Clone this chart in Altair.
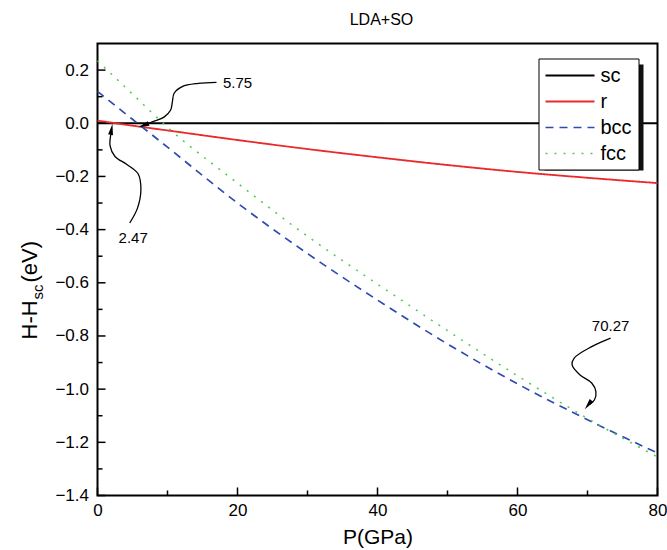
import altair as alt
import pandas as pd

FONT = "Liberation Sans"

# ---- data ----
P = [0, 5, 10, 20, 30, 40, 50, 60, 70, 80]
sc = [0, 0, 0, 0, 0, 0, 0, 0, 0, 0]
r = [0.01, -0.009, -0.027, -0.063, -0.097, -0.128, -0.157, -0.183, -0.205, -0.225]
bcc = [0.12, 0.015, -0.09, -0.30, -0.49, -0.665, -0.83, -0.98, -1.115, -1.24]
fcc = [0.235, 0.11, -0.015, -0.225, -0.425, -0.605, -0.78, -0.95, -1.11, -1.255]

series = ["sc", "r", "bcc", "fcc"]
colors = ["#000000", "#ea2a2a", "#2e4bb0", "#4fc94f"]
dashes = [[1, 0], [1, 0], [8, 6], [2, 7]]
widths = [2, 1.5, 1.5, 2]

y_major = [-1.4, -1.2, -1.0, -0.8, -0.6, -0.4, -0.2, 0.0, 0.2]
y_minor = [-1.3, -1.1, -0.9, -0.7, -0.5, -0.3, -0.1, 0.1]
x_major = [0, 20, 40, 60, 80]
x_minor = [10, 30, 50, 70]

# annotation labels
ann_text = ["5.75", "2.47", "70.27"]
ann_P = [20.0, 5.1, 73.3]
ann_H = [0.15, -0.43, -0.762]

# annotation curves (in data coordinates)
curve_id = ["a"] * 9 + ["b"] * 8 + ["c"] * 9
curve_P = [17.0, 14.4, 12.1, 10.95, 10.7, 10.45, 9.5, 7.9, 6.8,
           4.6, 5.7, 6.2, 5.8, 4.2, 2.5, 1.8, 1.95,
           73.3, 70.6, 68.1, 67.8, 68.9, 70.6, 71.2, 71.0, 70.3]
curve_H = [0.154, 0.150, 0.138, 0.113, 0.081, 0.05, 0.023, 0.006, -0.006,
           -0.375, -0.32, -0.25, -0.19, -0.155, -0.125, -0.085, -0.035,
           -0.808, -0.84, -0.883, -0.909, -0.946, -0.977, -1.009, -1.04, -1.058]
head_P = [6.57, 2.0, 70.1]
head_H = [-0.008, -0.023, -1.059]
head_ang = [250, 10, 218]

W, H = 560, 452

rows = []
for name, vals in zip(series, [sc, r, bcc, fcc]):
    for p, v in zip(P, vals):
        rows.append({"P": p, "H": v, "phase": name})
df = pd.DataFrame(rows)

x_scale = alt.Scale(domain=[0, 80], nice=False, zero=False)
y_scale = alt.Scale(domain=[-1.4, 0.3], nice=False, zero=False)

x_axis = alt.Axis(values=x_major, ticks=False, domain=False, grid=False,
                  labelFlush=False, labelFontSize=17, labelPadding=7,
                  labelFont=FONT, labelColor="#000",
                  title="P(GPa)", titleFontSize=21, titleFont=FONT,
                  titleFontWeight="normal", titlePadding=8, titleColor="#000")
y_axis = alt.Axis(values=y_major, format=".1f", ticks=False, domain=False,
                  grid=False, labelFlush=False, labelFontSize=17,
                  labelPadding=9, labelFont=FONT, labelColor="#000", title="")


def X(field="P"):
    return alt.X(f"{field}:Q", scale=x_scale, axis=x_axis, title="P(GPa)")


def Y(field="H"):
    return alt.Y(f"{field}:Q", scale=y_scale, axis=y_axis, title="")


lines = alt.Chart(df).mark_line(interpolate="monotone").encode(
    x=X(), y=Y(),
    color=alt.Color("phase:N", scale=alt.Scale(domain=series, range=colors),
                    legend=alt.Legend(title=None)),
    strokeDash=alt.StrokeDash("phase:N", scale=alt.Scale(domain=series, range=dashes),
                              legend=alt.Legend(title=None)),
    strokeWidth=alt.StrokeWidth("phase:N", scale=alt.Scale(domain=series, range=widths),
                                legend=None),
)

dummy = pd.DataFrame({"a": [0]})

shadow = alt.Chart(dummy).mark_rect(color="#111111").encode(
    x=alt.value(447), x2=alt.value(546), y=alt.value(21), y2=alt.value(127)
)

ymaj = alt.Chart(pd.DataFrame({"H": y_major})).mark_rule(color="#000", strokeWidth=1.5).encode(
    y=Y(), x=alt.value(0), x2=alt.value(8))
ymin = alt.Chart(pd.DataFrame({"H": y_minor})).mark_rule(color="#000", strokeWidth=1.5).encode(
    y=Y(), x=alt.value(0), x2=alt.value(5))
xmaj = alt.Chart(pd.DataFrame({"P": x_major})).mark_rule(color="#000", strokeWidth=1.5).encode(
    x=X(), y=alt.value(H), y2=alt.value(H - 8))
xmin = alt.Chart(pd.DataFrame({"P": x_minor})).mark_rule(color="#000", strokeWidth=1.5).encode(
    x=X(), y=alt.value(H), y2=alt.value(H - 5))

cdf = pd.DataFrame({"id": curve_id, "P": curve_P, "H": curve_H,
                    "o": list(range(len(curve_P)))})
curves = alt.Chart(cdf).mark_line(color="#000", strokeWidth=1.3,
                                  interpolate="catmull-rom").encode(
    x=X(), y=Y(), detail="id:N", order="o:Q")

hdf = pd.DataFrame({"P": head_P, "H": head_H, "ang": head_ang})
heads = alt.Chart(hdf).mark_point(shape="M0,-1L0.45,1L-0.45,1Z", filled=True,
                                  color="#000", size=120, opacity=1).encode(
    x=X(), y=Y(), angle=alt.Angle("ang:Q", scale=None))

tdf = pd.DataFrame({"t": ann_text, "P": ann_P, "H": ann_H})
labels = alt.Chart(tdf).mark_text(fontSize=15, font=FONT, color="#000").encode(
    x=X(), y=Y(), text="t:N")

yt1 = alt.Chart(dummy).mark_text(text="H-H", angle=270, align="left", baseline="middle",
                                 fontSize=22, font=FONT, color="#000").encode(
    x=alt.value(-68), y=alt.value(296))
yt2 = alt.Chart(dummy).mark_text(text="sc", angle=270, align="left", baseline="middle",
                                 fontSize=15, font=FONT, color="#000").encode(
    x=alt.value(-60), y=alt.value(256))
yt3 = alt.Chart(dummy).mark_text(text="(eV)", angle=270, align="left", baseline="middle",
                                 fontSize=22, font=FONT, color="#000").encode(
    x=alt.value(-68), y=alt.value(239))

chart = alt.layer(lines, shadow, ymaj, ymin, xmaj, xmin, curves, heads, labels,
                  yt1, yt2, yt3).properties(
    width=W, height=H,
    title=alt.Title("LDA+SO", fontSize=16, font=FONT, fontWeight="normal",
                    anchor="middle", offset=16, dx=4, color="#000"),
    padding={"left": 97.5, "top": 43.5, "right": 9.5, "bottom": 54.5},
    autosize=alt.AutoSizeParams(type="none"),
).configure_view(stroke="#000", strokeWidth=2).configure_legend(
    orient="none", legendX=441, legendY=15, padding=6,
    fillColor="#ffffff", strokeColor="#000",
    symbolType="M-1,0H3.9", symbolSize=400, symbolStrokeWidth=1.5,
    labelOffset=34, labelFontSize=20, labelFont=FONT, labelColor="#000",
    rowPadding=5,
)

chart.save("out.html", embed_options={"renderer": "svg", "actions": False})
